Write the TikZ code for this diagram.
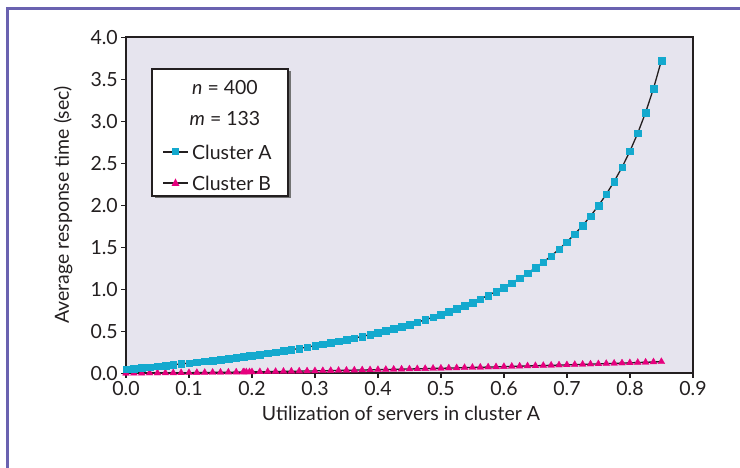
\documentclass[tikz,border=0pt]{standalone}
\usepackage{fontspec}
\setmainfont{Lato}
\usetikzlibrary{plotmarks}
\definecolor{framec}{HTML}{6A62B0}
\definecolor{plotbg}{HTML}{E6E4EE}
\definecolor{cyanA}{HTML}{14A9CE}
\definecolor{magB}{HTML}{E6007E}
\definecolor{axisc}{HTML}{231F20}
\tikzset{
  axisline/.style={draw=axisc, line width=1.8pt},
  tickline/.style={draw=axisc, line width=1.4pt},
  curveA/.style={draw=axisc, line width=1.3pt, mark=square*, mark size=3.3pt,
     mark options={solid, fill=cyanA, draw=cyanA, line width=0.3pt}},
  curveB/.style={draw=axisc, line width=1.3pt, mark=triangle*, mark size=4pt,
     mark options={solid, fill=magB, draw=magB, line width=0.3pt}},
  lbl/.style={font=\fontsize{19.5}{22}\selectfont, text=axisc},
}
\begin{document}
\begin{tikzpicture}[x=1pt,y=1pt]
\useasboundingbox (0,0) rectangle (740,468);
\draw[framec, line width=3pt] (7,0) -- (7,459) -- (740,459);
\begin{scope}[shift={(126,94.7)}, x=630pt, y=84pt]
  \fill[plotbg] (0,0) rectangle (0.9,4);
  \foreach \v/\t [count=\i] in {0/0.0,0.5/0.5,1/1.0,1.5/1.5,2/2.0,2.5/2.5,3/3.0,3.5/3.5,4/4.0}
    \draw[tickline] (0,\v) -- ++(-5pt,0) node[lbl, left, inner sep=2.5pt] (yl\i) {\t};
  \foreach \u [count=\i] in {0,...,9}
    \draw[tickline] (\u/10,0) -- ++(0,-5pt) node[lbl, below, inner sep=2pt] (xl\i) {0.\u};
  \draw[axisline] (0,0) rectangle (0.9,4);
  \draw[curveB] plot[domain=0:0.85, samples=69] (\x,{0.0595*\x+0.121*\x*\x});
  \path[curveB] plot[only marks, domain=0.186:0.196, samples=3] (\x,{0.0595*\x+0.121*\x*\x});
  \draw[curveA] plot[domain=0:0.85, samples=69] (\x,{0.05+0.649*\x/(1-\x)});
  \path[curveA] plot[only marks, domain=0.186:0.196, samples=3] (\x,{0.05+0.649*\x/(1-\x)});
\end{scope}
% legend
\fill[black!55] (154.5,269.5) rectangle (290.5,396.5);
\filldraw[fill=white, draw=axisc, line width=1.8pt] (152,272) rectangle (288,399);
\node[lbl] (ln) at (225,380) {\textit{n} = 400};
\node[lbl] (lm) at (225,349) {\textit{m} = 133};
\coordinate (la1) at (163,316);
\coordinate (la2) at (188,316);
\draw[axisc, line width=1.3pt] (la1) -- (la2);
\fill[cyanA] (172,312.5) rectangle (179,319.5);
\node[lbl, anchor=west, inner sep=0pt] (la) at (192,316) {Cluster A};
\coordinate (lb1) at (163,285);
\coordinate (lb2) at (188,285);
\draw[axisc, line width=1.3pt] (lb1) -- (lb2);
\fill[magB] (171.5,282) -- (179.5,282) -- (175.5,289.5) -- cycle;
\node[lbl, anchor=west, inner sep=0pt] (lb) at (192,285) {Cluster B};
% axis titles
\node[lbl, rotate=90] (ylab) at (63,263) {Average response time (sec)};
\node[lbl] (xlab) at (401,55) {Utilization of servers in cluster A};
\end{tikzpicture}
\end{document}
